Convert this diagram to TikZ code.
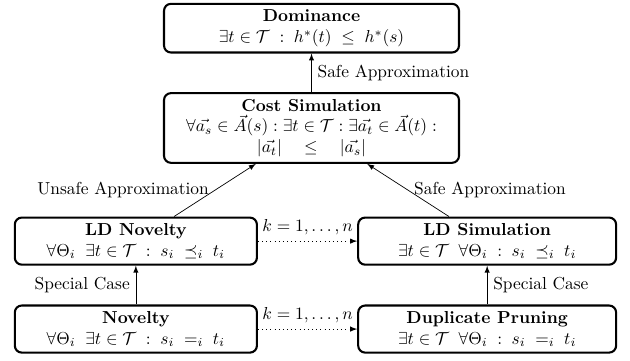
\documentclass[tikz,border=0pt]{standalone}
\usepackage{amsmath}
\usepackage{amssymb}
\usepackage{tikz}
\usetikzlibrary{
  positioning,
  arrows
}
\tikzset{
  ->,
  >=latex,
  node distance=2cm,
  every box/.style={draw, very thick, rounded corners=4pt, align=center},
  widebox/.style={every box, minimum width=5.97cm},
  leftbox/.style={every box, minimum width=4.90cm},
  rightbox/.style={every box, minimum width=5.22cm}
}

\begin{document}
\begin{tikzpicture}
    \useasboundingbox (-6.305,-4.70) rectangle (6.446,2.59);
    \node[widebox] (cost) {\textbf{Cost Simulation}\\
      $\forall \vec{a_s} \in \vec{A}(s) : \exists t \in \mathcal{T} : \exists \vec{a_t} \in \vec{A}(t) :$\\
      $|\vec{a_t}| \quad \leq \quad |\vec{a_s}|$};
    \node[widebox, above of=cost, node distance=2.02cm] (dom) {\textbf{Dominance}\\
      $\exists t \in \mathcal{T} \;:\; h^*(t) \;\leq\; h^*(s)$};
    \node[leftbox, below of=cost, node distance=2.29cm, xshift=-3.555cm] (ldnov) {\textbf{LD Novelty}\\
      $\forall \Theta_i \;\; \exists t \in \mathcal{T} \;:\; s_i \;\preceq_i\; t_i$};
    \node[rightbox, right of=ldnov, node distance=7.11cm] (ldsim) {\textbf{LD Simulation}\\
      $\exists t \in \mathcal{T} \;\; \forall \Theta_i \;:\; s_i \;\preceq_i\; t_i$};
    \node[leftbox, below of=ldnov, node distance=1.78cm] (nov) {\textbf{Novelty}\\
      $\forall \Theta_i \;\; \exists t \in \mathcal{T} \;:\; s_i \;=_i\; t_i$};
    \node[rightbox, below of=ldsim, node distance=1.78cm] (dup) {\textbf{Duplicate Pruning}\\
      $\exists t \in \mathcal{T} \;\; \forall \Theta_i \;:\; s_i \;=_i\; t_i$};
    \draw (cost) edge[right] node{Safe Approximation} (dom);
    \draw (ldnov) edge[left] node{Unsafe Approximation} (cost);
    \draw (ldsim) edge[right] node{Safe Approximation} (cost);
    \draw (nov) edge[left] node{Special Case} (ldnov);
    \draw (dup) edge[right] node{Special Case} (ldsim);
    \draw (ldnov) edge[dotted, above] node{$k=1,\dots,n$} (ldsim);
    \draw (nov) edge[dotted, above] node{$k=1,\dots,n$} (dup);
  \end{tikzpicture}
\end{document}
